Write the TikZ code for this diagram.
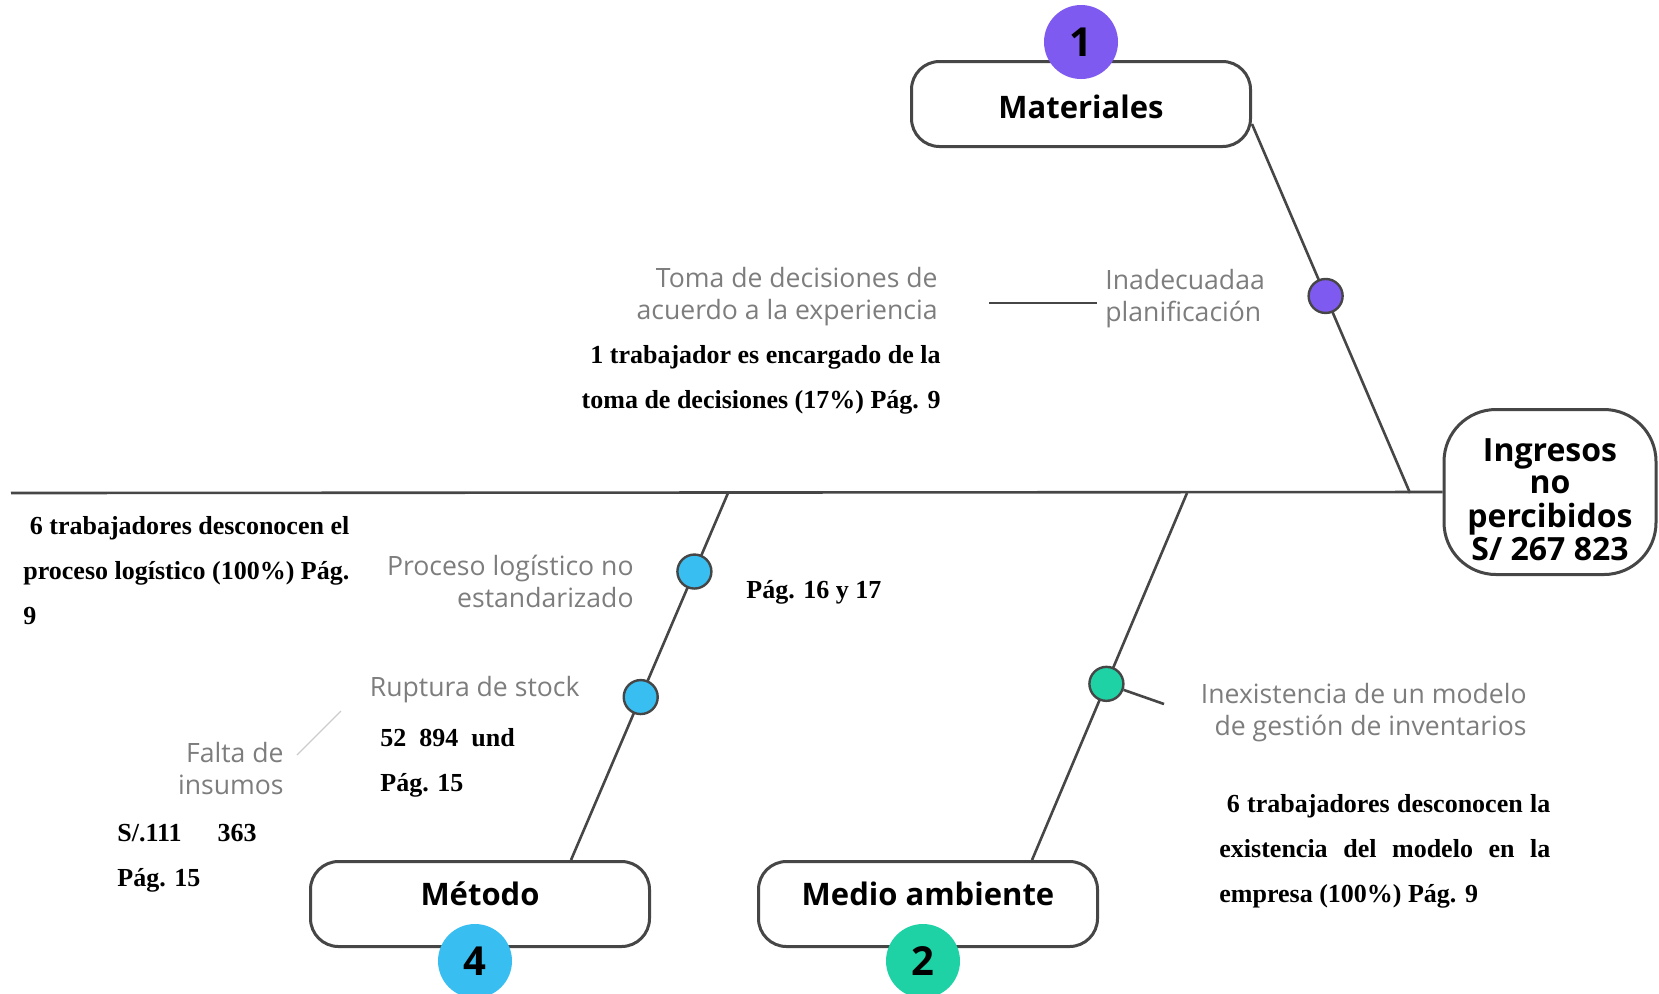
\documentclass[tikz,border=0pt]{standalone}
\usepackage{fontspec}
\setmainfont{Liberation Serif}
\newfontfamily\osans{Open Sans}
\definecolor{lila}{RGB}{127,90,240}
\definecolor{celeste}{RGB}{56,190,240}
\definecolor{verde}{RGB}{30,210,166}
\definecolor{linea}{RGB}{70,70,70}
\definecolor{gristxt}{RGB}{125,125,125}
\tikzset{
  caja/.style={draw=linea, line width=1.5pt, rounded corners=14pt, fill=white, minimum width=169.5pt, minimum height=42.5pt, font=\osans\bfseries\fontsize{15.5}{16}\selectfont},
  numero/.style={circle, minimum size=37pt, inner sep=0pt, font=\osans\bfseries\fontsize{20}{20}\selectfont},
  punto/.style={circle, draw=linea, line width=1.2pt, minimum size=17pt, inner sep=0pt},
  espina/.style={draw=linea, line width=1.3pt},
  gris/.style={text=gristxt, inner sep=0pt, font=\osans\fontsize{13.3}{16}\selectfont},
  dato/.style={inner sep=0pt, font=\bfseries\fontsize{13}{22.5}\selectfont}
}
\begin{document}
\begin{tikzpicture}[x=0.5pt,y=-0.5pt]
\useasboundingbox (0,0) rectangle (1659,993);
\node[caja] (mat) at (1081,104) {\raisebox{-1.6pt}[\height][\depth]{Materiales}};
\node[caja] (met) at (480,904) {\raisebox{5.3pt}[\height][\depth]{Método}};
\node[caja] (med) at (928,904) {\raisebox{5.3pt}[\height][\depth]{Medio ambiente}};
\node[caja, minimum width=106pt, minimum height=82.5pt, rounded corners=26pt, font=\osans\bfseries\fontsize{16}{16}\selectfont] (efecto) at (1550,492) {\raisebox{-6.3pt}[\height][\depth]{\begin{tabular}{@{}c@{}}Ingresos\\no\\percibidos\\S/ 267 823\end{tabular}}};
\node[numero, fill=lila] (n1) at (1081,42) {1};
\node[numero, fill=celeste] (n4) at (475,961) {4};
\node[numero, fill=verde] (n2) at (923,961) {2};
\coordinate (cola) at (11,493);
\coordinate (e1) at (1410,493);
\coordinate (e4) at (728,493);
\coordinate (e2) at (1187,493);
\coordinate (t2) at (1164,704);
\coordinate (r1) at (989,303);
\coordinate (r2) at (1097,303);
\coordinate (f1) at (341,711);
\coordinate (f2) at (297,755);
\draw[espina] (cola) -- (efecto.west);
\draw[espina] ([yshift=-10pt]mat.east) -- node[punto, fill=lila, pos=0.466] (p1) {} (e1);
\draw[espina] (e4) -- node[punto, fill=celeste, pos=0.214] (p4a) {} node[punto, fill=celeste, pos=0.556] (p4b) {} ([xshift=45.5pt]met.north);
\draw[espina] (e2) -- node[punto, fill=verde, pos=0.52] (p2) {} ([xshift=52pt]med.north);
\draw[espina] (p2) -- (t2);
\draw[espina] (r1) -- (r2);
\draw[gray!40, line width=0.6pt] (f1) -- (f2);
\node[gris, anchor=east, align=right] (c1) at (938,297) {Toma de decisiones de\\acuerdo a la experiencia};
\node[gris, anchor=west, align=left] (c1b) at (1105,299) {Inadecuadaa\\planificación};
\node[dato, anchor=east, align=right] (d1) at (941,380) {1 trabajador es encargado de la\\toma de decisiones (17\%) Pág. 9};
\node[dato, anchor=west, align=left] (d4) at (23,571) {\ 6 trabajadores desconocen el\\proceso logístico (100\%) Pág.\\9};
\node[gris, anchor=east, align=right] (c4a) at (634,581) {Proceso logístico no\\estandarizado};
\node[dato, anchor=west] (d4a) at (746,592) {Pág. 16 y 17};
\node[gris, anchor=east] (c4b) at (580,690) {Ruptura de stock};
\node[dato, anchor=west, align=left] (d4b) at (380,763) {52\ \ 894\ \ und\\Pág. 15};
\node[gris, anchor=east, align=right] (c4c) at (284,769) {Falta de\\insumos};
\node[dato, anchor=west, align=left] (d4c) at (117,858) {S/.111\hspace{18pt}363\\Pág. 15};
\node[gris, anchor=east, align=right] (c2) at (1527,713) {Inexistencia de un modelo\\de gestión de inventarios};
\node[dato, anchor=west] (d2) at (1219,851) {\parbox{165.5pt}{\ 6 trabajadores desconocen la\linebreak existencia del modelo en la\linebreak empresa (100\%) Pág. 9}};
\end{tikzpicture}
\end{document}
